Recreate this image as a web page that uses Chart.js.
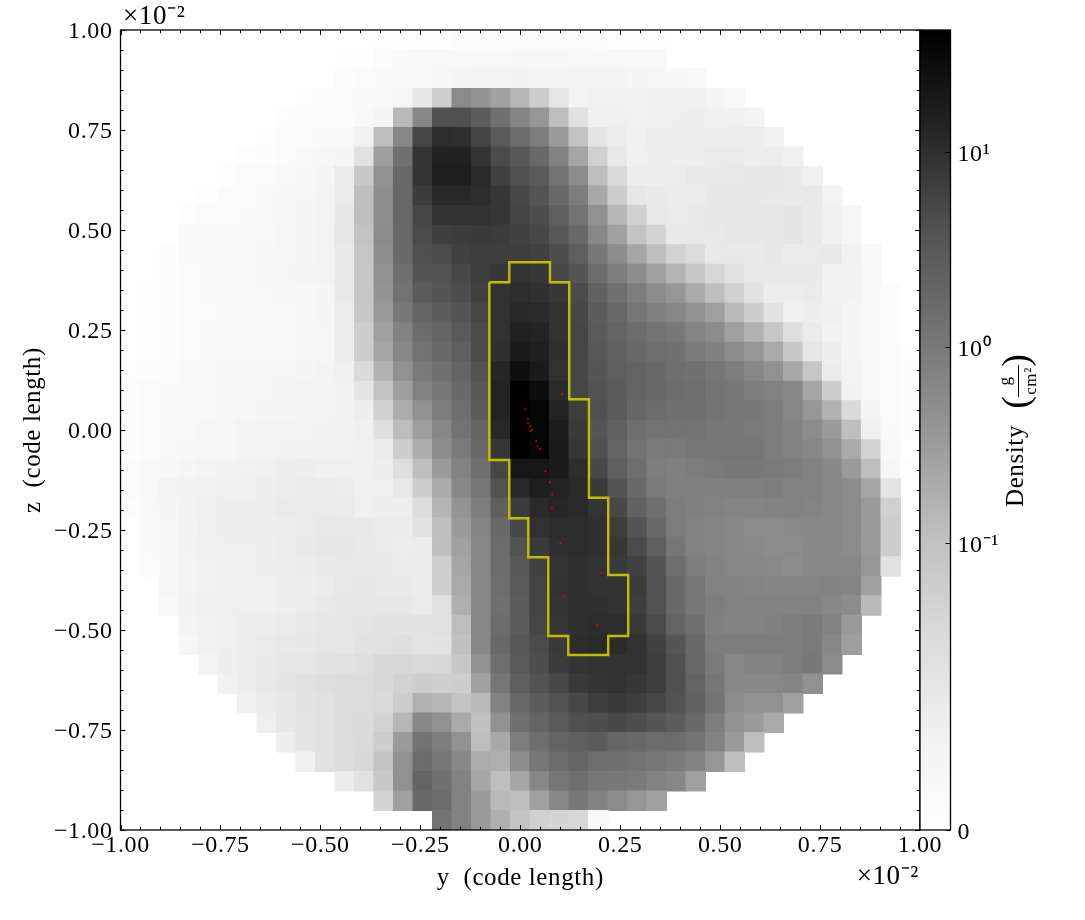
<!DOCTYPE html>
<html>
<head>
<meta charset="utf-8">
<style>
html,body{margin:0;padding:0;background:#fff;width:1085px;height:920px;overflow:hidden}
canvas{position:absolute;left:0;top:0}
</style>
<script src="https://cdn.jsdelivr.net/npm/chart.js@4/dist/chart.umd.js"></script>
</head>
<body>
<canvas id="main" width="1085" height="920"></canvas>
<canvas id="bar" width="1085" height="920"></canvas>
<script>
// Density per cell, rows run from z = +1 (top) to z = -1 (bottom), columns from y = -1 to y = +1
const row00=[0,0,0,0,0,0,0,0,0,0,0,0,0,.0007,.0007,.0007,.0007,.002,.002,.002,.0027,.0027,.0027,.0027,.002,.0007,.0007,.0007,0,0,0,0,0,0,0,0,0,0,0,0,0];
const row01=[0,0,0,0,0,0,0,0,0,0,0,.0007,.0007,.0027,.0041,.0048,.0054,.0054,.0054,.0054,.0061,.0061,.0061,.0054,.0054,.0048,.0048,.0048,0,0,0,0,0,0,0,0,0,0,0,0,0];
const row02=[0,0,0,0,0,0,0,0,0,0,0,.002,.0034,.0041,.0048,.0054,.0061,.0075,.0085,.0085,.0095,.0085,.0085,.0085,.0085,.0085,.0075,.0068,.0061,.0048,0,0,0,0,0,0,0,0,0,0,0];
const row03=[0,0,0,0,0,0,0,0,0,.0014,.002,.0034,.0041,.0054,.0068,.0184,.055,.57,.41,.26,.145,.06,.0184,.0085,.0102,.0102,.0095,.011,.011,.011,.0075,.0054,0,0,0,0,0,0,0,0,0];
const row04=[0,0,0,0,0,0,0,0,.0014,.002,.0027,.0034,.0054,.0075,.13,.63,4.2,4.2,2.8,1.37,.69,.38,.11,.0238,.011,.011,.0102,.011,.0116,.0122,.011,.011,.0085,0,0,0,0,0,0,0,0];
const row05=[0,0,0,0,0,0,0,.0014,.0027,.0034,.0041,.0048,.0102,.117,.63,5.4,10.5,9.7,5.7,3.0,1.58,.87,.33,.09,.0204,.0135,.011,.0129,.0129,.0129,.0129,.0135,.0135,.0102,0,0,0,0,0,0,0];
const row06=[0,0,0,0,0,0,.0014,.002,.0034,.0048,.0061,.0075,.025,.30,1.37,8.7,14.8,14.5,8.7,4.8,3.2,1.75,.74,.24,.052,.0167,.011,.0122,.0122,.0129,.015,.015,.0129,.0135,.011,0,0,0,0,0,0];
const row07=[0,0,0,0,0,.0014,.0027,.0034,.0048,.0061,.0075,.0142,.073,.45,1.9,8.7,15.6,15.6,11.4,6.2,4.2,3.0,1.23,.53,.11,.034,.0129,.0129,.0135,.0158,.0158,.0167,.0175,.0175,.0158,.011,0,0,0,0,0];
const row08=[0,0,0,0,.0014,.0034,.0034,.0048,.0061,.0068,.0085,.0142,.11,.5,1.9,7.1,12,12,10.5,8.1,5.2,3.6,1.75,.87,.22,.06,.0184,.0158,.0142,.0142,.0175,.0175,.0175,.0167,.0158,.0167,.0085,0,0,0,0];
const row09=[0,0,0,.0014,.0027,.0034,.0041,.0048,.0061,.0075,.0085,.0175,.11,.5,1.9,5.4,9.2,9.2,9.2,8.1,5.7,4.4,2.5,1.23,.45,.14,.052,.0167,.015,.0158,.0175,.0184,.0184,.0194,.0204,.0158,.011,.0068,0,0,0];
const row10=[0,0,0,.0054,.0048,.0041,.0048,.0054,.0068,.0075,.0085,.0194,.09,.53,1.75,4.8,6.7,7.1,7.5,7.1,6.2,5.2,3.2,1.75,.63,.28,.09,.044,.0167,.0167,.0167,.0184,.0184,.0184,.0204,.0158,.011,.0068,0,0,0];
const row11=[0,0,.002,.0041,.0048,.0048,.0054,.0061,.0068,.0075,.0085,.0167,.079,.5,1.75,4.2,4.8,6.2,6.7,6.7,6.7,6.2,4.4,2.5,1.03,.53,.24,.11,.048,.031,.0167,.0167,.0158,.0184,.015,.015,.0167,.0102,.0048,0,0];
const row12=[0,0,.002,.0034,.0041,.0048,.0054,.0061,.0068,.0085,.0085,.0167,.079,.45,1.37,3.6,4.0,5.2,6.7,8,9,8.1,5.4,3.6,1.58,.87,.53,.28,.153,.073,.039,.0238,.0167,.0167,.0158,.0158,.0095,.0095,.0048,0,0];
const row13=[0,.0007,.002,.0034,.0041,.0041,.0048,.0054,.0061,.0061,.0075,.0167,.079,.41,1.23,2.8,3.6,4.4,6.2,9.2,10.5,9.7,8.1,4.8,2.25,1.37,.87,.53,.38,.207,.11,.052,.0238,.0135,.0135,.015,.0095,.0095,.0048,.002,0];
const row14=[0,.0007,.002,.0034,.0034,.0048,.0048,.0054,.0054,.0061,.0075,.0135,.073,.36,1.03,2.1,2.8,3.6,5.4,9.2,11.5,11.4,9.2,5.2,2.8,1.75,1.1,.79,.63,.45,.28,.13,.06,.0238,.011,.0122,.011,.0075,.0048,.002,0];
const row15=[0,.0007,.002,.0034,.0041,.0054,.0054,.0054,.0054,.0061,.0068,.0135,.06,.28,.74,1.58,2.1,3.0,4.8,9.2,14.8,13.7,9.2,5.4,3.0,2.1,1.58,1.23,1.03,.69,.53,.28,.165,.079,.0278,.015,.0095,.0075,.0048,.002,0];
const row16=[0,.0007,.002,.0034,.0041,.0054,.0054,.0054,.0054,.0061,.0068,.0135,.06,.24,.63,1.23,1.75,2.5,4.8,9.7,18,15.6,9.7,5.4,3.2,2.25,1.75,1.47,1.37,.96,.79,.53,.38,.207,.073,.0184,.0122,.0075,.0048,.0027,.0007];
const row17=[.0014,.002,.0034,.0048,.0054,.0061,.0068,.0068,.0068,.0075,.0085,.011,.034,.165,.45,.96,1.37,2.1,4.0,12.7,26,18,9.2,5.4,3.6,2.5,2.1,1.75,1.47,1.37,1.1,.87,.63,.45,.22,.079,.0142,.0085,.0054,.0034,.002];
const row18=[.002,.0034,.0041,.0048,.0054,.0061,.0068,.0068,.0075,.0085,.0085,.0102,.0204,.09,.30,.74,1.03,1.75,3.2,13.7,41,28,11.4,5.4,4.0,2.8,2.1,1.75,1.58,1.47,1.23,1.1,.87,.74,.63,.24,.06,.0095,.0054,.0034,.002];
const row19=[.002,.0034,.0041,.0048,.0054,.0061,.0068,.0075,.0075,.0085,.0085,.0102,.0122,.052,.195,.45,.87,1.47,2.8,13.7,41.9,36,13.7,6.7,4.2,2.8,1.95,1.58,1.37,1.37,1.23,1.1,1.03,.87,.63,.38,.165,.034,.0075,.0034,.002];
const row20=[.002,.0034,.0048,.0054,.0068,.0068,.0085,.0085,.0085,.0085,.0095,.0095,.011,.0278,.117,.30,.63,1.23,2.1,12,41,36,16.5,7.5,3.6,2.25,1.47,1.23,1.23,1.23,1.1,1.1,.96,.87,.74,.53,.33,.11,.011,.0041,.002];
const row21=[.002,.0034,.0048,.0061,.0068,.0068,.0085,.0085,.0095,.0095,.0095,.0102,.011,.0142,.06,.195,.53,.96,1.75,8.1,40,36,18,8.1,4.2,2.1,1.23,.96,.96,1.1,1.1,1.1,1.1,.87,.74,.63,.45,.207,.048,.0048,0];
const row22=[.0034,.0048,.0061,.0075,.0085,.0095,.0102,.011,.0122,.0129,.0116,.0116,.011,.0122,.0278,.11,.33,.74,1.37,5.4,20,20,18,10.5,5.2,2.5,1.47,.87,.79,.87,.96,1.03,1.03,.96,.87,.74,.63,.33,.117,.0068,.0014];
const row23=[.0034,.0054,.0085,.0095,.0102,.011,.0116,.0122,.0135,.015,.0142,.0129,.011,.0116,.0167,.06,.207,.63,1.1,4.0,11.7,15.6,13.7,11.4,7.5,3.6,1.75,.96,.79,.79,.79,.79,.79,.84,.74,.74,.63,.53,.24,.0204,0];
const row24=[.002,.0048,.0075,.0095,.011,.0122,.0129,.0135,.015,.015,.015,.0142,.011,.0122,.0129,.031,.153,.41,.87,2.5,7.1,11.4,12.7,11.4,8.7,5.2,2.25,1.37,.87,.79,.74,.69,.69,.74,.74,.69,.63,.53,.33,.052,0];
const row25=[0,.0041,.0068,.0095,.0116,.0122,.0122,.0129,.0129,.015,.0167,.0167,.0167,.015,.0142,.0238,.11,.33,.69,1.75,5.2,9.2,10.5,10.5,9.7,6.7,3.6,1.75,.87,.74,.69,.63,.57,.57,.6,.63,.63,.53,.33,.06,0];
const row26=[0,.0041,.0068,.0095,.011,.0116,.0116,.0122,.0135,.0158,.0175,.0175,.0158,.015,.0135,.0142,.11,.28,.63,1.58,4.0,7.5,9.7,10.5,9.7,8.1,4.8,2.5,1.1,.74,.69,.63,.6,.53,.57,.63,.63,.57,.36,.06,0];
const row27=[0,.0034,.0061,.0085,.0102,.011,.0116,.0122,.0129,.0142,.0158,.0167,.0158,.0158,.0142,.0142,.057,.24,.63,1.58,3.2,6.2,8.7,9.7,9.2,7.5,6.2,3.6,1.47,.87,.74,.63,.63,.6,.53,.63,.63,.63,.38,.0238,0];
const row28=[0,0,.0068,.0085,.0102,.011,.011,.011,.0122,.0129,.0142,.0167,.0175,.0167,.0158,.0142,.055,.207,.63,1.47,3.0,5.7,9.2,9.7,9.2,9.2,7.1,4.0,1.75,1.1,.74,.74,.69,.65,.67,.69,.74,.69,.28,0,0];
const row29=[0,0,.0048,.0095,.011,.0116,.0116,.011,.0122,.0135,.0158,.0175,.0184,.0184,.0194,.015,.0238,.18,.63,1.37,2.8,5.7,8.7,9.7,9.7,9.2,6.7,4.0,1.75,1.1,.87,.74,.74,.74,.74,.74,.63,.53,.13,0,0];
const row30=[0,0,0,.0085,.0102,.0116,.0135,.0135,.015,.0167,.0184,.0194,.0204,.0226,.0226,.0226,.025,.117,.63,1.58,2.8,5.4,8.1,9.7,10.5,10.5,7.5,4.8,2.1,1.37,.79,.74,.74,.79,.87,.96,.74,.33,0,0,0];
const row31=[0,0,0,.0068,.0102,.0116,.0135,.015,.0167,.0175,.0194,.0194,.0226,.0238,.0278,.0215,.0226,.10,.63,1.75,3.2,4.8,7.5,10.5,11,11,9.2,6.2,3.6,1.75,.87,.87,.87,.87,.87,.96,.63,.30,0,0,0];
const row32=[0,0,0,0,.0085,.0122,.0135,.0158,.0184,.0194,.0226,.0238,.0264,.037,.039,.036,.037,.073,.45,1.47,3.1,4.4,7.1,8.7,9.2,9.2,9.2,6.7,4.2,1.75,.96,.63,.74,.74,.87,1.03,.57,0,0,0,0];
const row33=[0,0,0,0,0,.0102,.0129,.0167,.0204,.0238,.0278,.031,.031,.037,.048,.06,.055,.06,.26,1.1,2.5,4.0,5.2,7.5,8.7,9.2,8.1,6.7,4.2,2.1,1.1,.63,.63,.63,.69,.45,0,0,0,0,0];
const row34=[0,0,0,0,0,0,.0116,.015,.0184,.0226,.025,.029,.031,.034,.06,.165,.145,.09,.13,.74,1.75,2.8,4.0,5.2,6.7,7.5,6.7,5.2,4.0,2.25,1.23,.57,.45,.45,.28,0,0,0,0,0,0];
const row35=[0,0,0,0,0,0,0,.0116,.0175,.0215,.0238,.031,.032,.048,.145,.63,.45,.207,.10,.45,1.37,2.1,3.0,4.2,4.4,5.2,4.4,3.6,2.8,1.75,.87,.45,.33,.207,0,0,0,0,0,0,0];
const row36=[0,0,0,0,0,0,0,0,.0122,.0204,.0238,.029,.032,.06,.33,1.23,.87,.45,.117,.22,.87,1.47,2.1,2.5,2.8,1.95,1.75,1.58,1.58,1.23,.74,.33,.11,0,0,0,0,0,0,0,0];
const row37=[0,0,0,0,0,0,0,0,0,.011,.0238,.031,.039,.09,.45,1.58,1.1,.63,.195,.18,.53,1.1,1.58,1.95,1.47,1.37,1.23,1.1,.96,.74,.38,.11,0,0,0,0,0,0,0,0,0];
const row38=[0,0,0,0,0,0,0,0,0,0,0,.0142,.0238,.073,.45,2.1,1.37,.74,.24,.11,.24,.63,1.1,1.47,1.1,1.03,.96,.74,.63,.28,0,0,0,0,0,0,0,0,0,0,0];
const row39=[0,0,0,0,0,0,0,0,0,0,0,0,0,.044,.28,1.75,1.58,.74,.33,.13,.11,.28,.63,1.03,.74,.53,.38,.28,0,0,0,0,0,0,0,0,0,0,0,0,0];
const row40=[0,0,0,0,0,0,0,0,0,0,0,0,0,0,0,0,1.23,.74,.33,.18,.09,.052,.044,.039,.0048,0,0,0,0,0,0,0,0,0,0,0,0,0,0,0,0];
const densityRows=[row00,row01,row02,row03,row04,row05,row06,row07,row08,row09,row10,row11,row12,row13,row14,row15,row16,row17,row18,row19,row20,row21,row22,row23,row24,row25,row26,row27,row28,row29,row30,row31,row32,row33,row34,row35,row36,row37,row38,row39,row40];

// Yellow contour, in axis units (x 10^-2)
const contourY=[-.0774,-.0274,-.0274,.0744,.0744,.1226,.1226,.1719,.1719,.2201,.2201,.2701,.2701,.2201,.2201,.1201,.1201,.0701,.0701,.0201,.0201,-.0274,-.0274,-.0774,-.0774];
const contourZ=[.3693,.3693,.4193,.4193,.3693,.3693,.0768,.0768,-.1693,-.1693,-.3625,-.3625,-.515,-.515,-.5625,-.5625,-.515,-.515,-.3183,-.3183,-.2208,-.2208,-.075,-.075,.3693];

// Red particles
const particleY=[.105,.012,.019,.019,.024,.03,.026,.04,.043,.05,.063,.074,.08,.079,.1,.203,.11,.193];
const particleZ=[.089,.052,.028,.018,.009,0,-.003,-.027,-.04,-.047,-.103,-.131,-.161,-.195,-.283,-.358,-.414,-.488];

// Axis ticks
const axisTicks=[-1,-.75,-.5,-.25,0,.25,.5,.75,1];
const axisTickLabels=['\u22121.00','\u22120.75','\u22120.50','\u22120.25','0.00','0.25','0.50','0.75','1.00'];
const minorTickStep=0.05;
const barTicks=[0,0.1,1,10];
const barTickLabels=['0','10\u207B\u00B9','10\u2070','10\u00B9'];
const barMax=41.9;
const greysStops=[255,240,217,189,150,115,82,37,0];

const SERIF='"Liberation Serif"';
Chart.defaults.font.family=SERIF;
Chart.defaults.color='#000';

function symFrac(v){
  if(v<=0) return 0;
  if(v<0.01) return 0.1145*v/0.01;
  return Math.min(1,0.359+0.2445*Math.log10(v/0.1));
}
function fracInv(f){
  if(f<=0.1145) return f/0.1145*0.01;
  return 0.1*Math.pow(10,(f-0.359)/0.2445);
}
function greyOf(f){
  const p=f*(greysStops.length-1), i=Math.min(greysStops.length-2,Math.floor(p));
  const g=Math.round(greysStops[i]+(greysStops[i+1]-greysStops[i])*(p-i));
  return 'rgb('+g+','+g+','+g+')';
}

class SymlogScale extends Chart.LinearScale{
  getPixelForValue(v){return this.getPixelForDecimal(symFrac(v));}
  getValueForPixel(p){return fracInv(this.getDecimalForPixel(p));}
}
SymlogScale.id='symlog';
SymlogScale.defaults=Chart.LinearScale.defaults;
Chart.register(SymlogScale);

const cellStep=2/densityRows.length;
const cellPoints=[],cellColors=[];
densityRows.forEach((row,r)=>row.forEach((v,c)=>{
  if(v>0){
    cellPoints.push({x:-1+(c+.5)*cellStep,y:1-(r+.5)*cellStep});
    cellColors.push(greyOf(symFrac(v)));
  }
}));

function tickLabel(v){
  const i=axisTicks.findIndex(t=>Math.abs(t-v)<1e-6);
  return i<0?'':axisTickLabels[i];
}
const setAxisTicks=s=>{s.ticks=axisTicks.map(v=>({value:v}));};
// nudge tick label rows so digits sit centred on their ticks
const nudgeLabels=(chart,id,dy)=>{
  chart.scales[id].getLabelItems(chart.chartArea).forEach(it=>{it.options.translation[1]+=dy;});
};

const framePlugin={
  id:'frame',
  afterUpdate(chart){nudgeLabels(chart,'y',2);},
  beforeDraw(chart){chart.ctx.letterSpacing='0.6px';},
  afterDraw(chart){
    const {ctx,chartArea:a,scales:{x,y}}=chart;
    ctx.save();
    ctx.strokeStyle='#000';ctx.lineWidth=1;
    const n=Math.round(2/minorTickStep);
    ctx.beginPath();
    for(let i=0;i<=n;i++){
      const v=-1+i*minorTickStep,maj=i%5===0,L=maj?5:3.2;
      const px=Math.round(x.getPixelForValue(v))+.5,py=Math.round(y.getPixelForValue(v))+.5;
      ctx.moveTo(px,a.bottom);ctx.lineTo(px,a.bottom-L);
      ctx.moveTo(px,a.top);ctx.lineTo(px,a.top+L);
      ctx.moveTo(a.left,py);ctx.lineTo(a.left+L,py);
      ctx.moveTo(a.right,py);ctx.lineTo(a.right-L,py);
    }
    ctx.stroke();
    ctx.lineWidth=1.3;
    ctx.strokeRect(a.left,a.top,a.right-a.left,a.bottom-a.top);
    ctx.fillStyle='#000';
    ctx.font='27px '+SERIF;
    ctx.textBaseline='alphabetic';
    ctx.textAlign='left';
    ctx.fillText('\u00D710\u207B\u00B2',123,24);
    ctx.textAlign='right';
    ctx.fillText('\u00D710\u207B\u00B2',919,884);
    ctx.restore();
  }
};

new Chart(document.getElementById('main'),{
  type:'scatter',
  data:{datasets:[
    {label:'Particles',order:1,data:particleY.map((v,i)=>({x:v,y:particleZ[i]})),pointStyle:'rect',pointRadius:1.1,pointBorderWidth:0,pointBackgroundColor:'#ff0000'},
    {label:'Contour',order:2,data:contourY.map((v,i)=>({x:v,y:contourZ[i]})),showLine:true,tension:0,borderColor:'#bfbf00',borderWidth:2.4,pointRadius:0},
    {label:'Density',order:3,data:cellPoints,pointStyle:'rect',pointRadius:14.5,pointBorderWidth:0,pointBackgroundColor:cellColors}
  ]},
  options:{
    responsive:false,animation:false,devicePixelRatio:1,
    layout:{padding:{top:30,right:165,left:0,bottom:0}},
    plugins:{legend:{display:false},tooltip:{enabled:false}},
    scales:{
      x:{type:'linear',min:-1,max:1,afterBuildTicks:setAxisTicks,afterFit(s){s.height=90;},
        grid:{display:false,drawTicks:false},border:{display:false},
        ticks:{font:{size:24},padding:1,maxRotation:0,autoSkip:false,callback:v=>tickLabel(v)},
        title:{display:true,text:'y  (code length)',font:{size:25},padding:{top:0,bottom:27}}},
      y:{type:'linear',min:-1,max:1,afterBuildTicks:setAxisTicks,afterFit(s){s.width=120.5;},
        grid:{display:false,drawTicks:false},border:{display:false},
        ticks:{font:{size:24},padding:8,autoSkip:false,callback:v=>tickLabel(v)},
        title:{display:true,text:'z  (code length)',font:{size:25},padding:{top:18,bottom:0}}}
    }
  },
  plugins:[framePlugin]
});

const barPlugin={
  id:'barFrame',
  afterUpdate(chart){nudgeLabels(chart,'y',3);},
  beforeDraw(chart){chart.ctx.letterSpacing='0.6px';},
  afterDraw(chart){
    const {ctx,chartArea:a,scales:{y}}=chart;
    ctx.save();
    ctx.strokeStyle='#000';ctx.lineWidth=1;
    ctx.beginPath();
    barTicks.forEach(v=>{
      const py=Math.round(y.getPixelForValue(v))+.5;
      ctx.moveTo(a.right,py);ctx.lineTo(a.right-5,py);
    });
    ctx.stroke();
    ctx.lineWidth=1.3;
    ctx.strokeRect(a.left,a.top,a.right-a.left,a.bottom-a.top);
    // colourbar label, rotated
    ctx.fillStyle='#000';
    ctx.textBaseline='alphabetic';
    const put=(t,font,bx,cy)=>{
      ctx.save();ctx.translate(bx,cy);ctx.rotate(-Math.PI/2);
      ctx.font=font+'px '+SERIF;ctx.textAlign='center';ctx.fillText(t,0,0);ctx.restore();
    };
    put('Density',25,1023,466);
    put('g',17,1010,381);
    put('cm\u00B2',17,1036,381);
    put('(',38,1028,402);
    put(')',38,1028,360);
    ctx.lineWidth=1;
    ctx.beginPath();ctx.moveTo(1018.5,365);ctx.lineTo(1018.5,397);ctx.stroke();
    ctx.restore();
  }
};

new Chart(document.getElementById('bar'),{
  type:'bar',
  data:{labels:['Density'],datasets:[{
    data:[[0,barMax]],
    barPercentage:1,categoryPercentage:1,borderSkipped:false,
    backgroundColor(c){
      const a=c.chart.chartArea;
      if(!a) return '#888';
      const g=c.chart.ctx.createLinearGradient(0,a.bottom,0,a.top);
      greysStops.forEach((s,i)=>g.addColorStop(i/(greysStops.length-1),'rgb('+s+','+s+','+s+')'));
      return g;
    }
  }]},
  options:{
    responsive:false,animation:false,devicePixelRatio:1,
    layout:{padding:{top:30,left:920,right:74.5,bottom:90}},
    plugins:{legend:{display:false},tooltip:{enabled:false}},
    scales:{
      x:{display:false},
      y:{type:'symlog',position:'right',min:0,max:barMax,
        afterBuildTicks(s){s.ticks=barTicks.map(v=>({value:v}));},
        afterFit(s){s.width=60;},
        grid:{display:false,drawTicks:false},border:{display:false},
        ticks:{font:{size:24},padding:7,autoSkip:false,
          callback(v){const i=barTicks.indexOf(v);return i<0?'':barTickLabels[i];}}}
    }
  },
  plugins:[barPlugin]
});
</script>
</body>
</html>
